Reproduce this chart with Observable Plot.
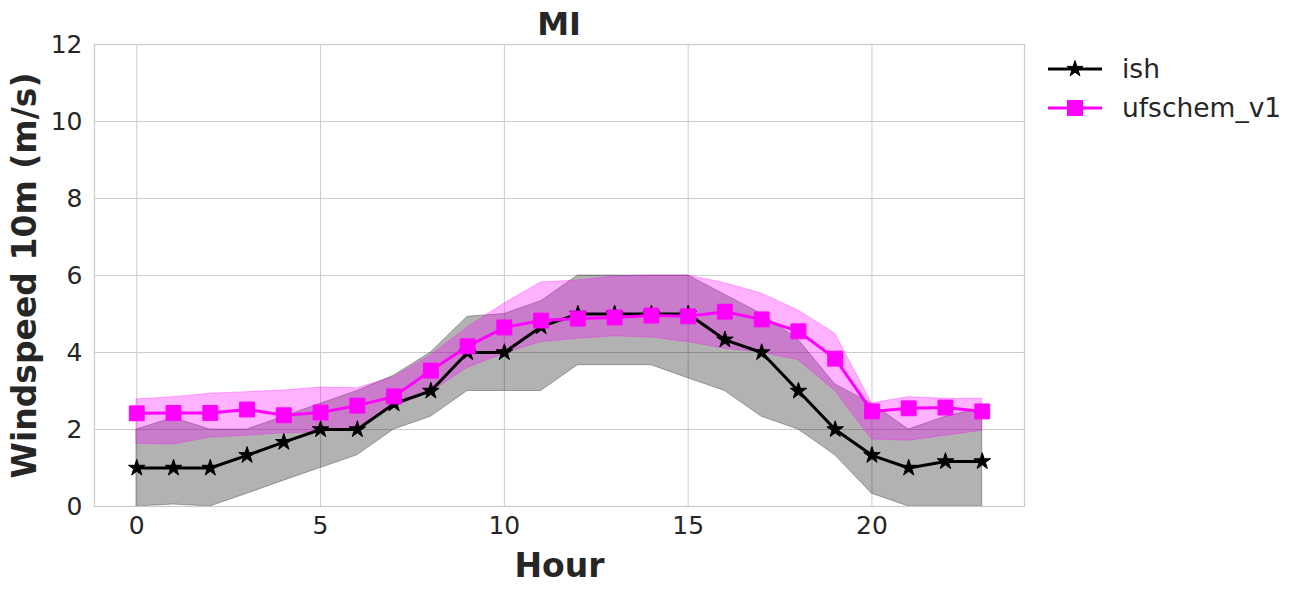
<!DOCTYPE html>
<html>
<head>
<meta charset="utf-8">
<script src="https://cdn.jsdelivr.net/npm/d3@7"></script>
<script src="https://cdn.jsdelivr.net/npm/@observablehq/plot@0.6"></script>
<style>
  html, body { margin: 0; padding: 0; background: #ffffff; }
  body { font-family: "DejaVu Sans", sans-serif; color: #262626; }
  #wrap { position: relative; width: 1303px; height: 592px; overflow: hidden; }
  #title { position: absolute; left: 94px; width: 930px; top: 4px; text-align: center;
           font-size: 32px; font-weight: bold; color: #262626; line-height: 40px; }
  #legend { position: absolute; left: 1046px; top: 49px; font-size: 26.5px; color: #262626; }
  .row { display: flex; align-items: center; height: 39px; }
  .row svg { margin-right: 18px; }
</style>
</head>
<body>
<div id="wrap">
  <div id="chart"></div>
  <div id="title">MI</div>
  <div id="legend"></div>
</div>
<script>
// ---- data ----
const hours = [0,1,2,3,4,5,6,7,8,9,10,11,12,13,14,15,16,17,18,19,20,21,22,23];

const ishMean = [1,1,1,1.33,1.67,2,2,2.67,3,4,4,4.67,5,5,5,5,4.33,4,3,2,1.33,1,1.17,1.17];
const ishLow  = [0,0.05,0,0.33,0.67,1,1.33,2,2.33,3,3,3,3.67,3.67,3.67,3.33,3,2.33,2,1.33,0.33,0,0,0];
const ishHigh = [2,2.3,2,2,2.33,2.67,3,3.4,4,4.93,5,5.33,6,6,6,6,5.5,5,4.33,3.17,2.67,2,2.33,2.55];

const ufsMean = [2.42,2.43,2.43,2.52,2.37,2.44,2.62,2.86,3.53,4.16,4.65,4.83,4.88,4.91,4.96,4.94,5.06,4.86,4.55,3.84,2.47,2.55,2.57,2.47];
const ufsLow  = [1.63,1.61,1.79,1.84,1.9,1.93,2.06,2.58,2.97,3.6,3.97,4.27,4.36,4.42,4.39,4.27,4.1,4.0,3.8,3.0,1.74,1.71,1.84,1.97];
const ufsHigh = [2.78,2.84,2.93,2.97,3.01,3.09,3.07,3.36,3.92,4.65,5.27,5.82,5.87,5.97,6.0,6.0,5.8,5.53,5.09,4.49,2.68,2.84,2.8,2.8];

const seriesNames = ["ish", "ufschem_v1"];
const seriesColors = ["#000000", "#ff00ff"];
const seriesSymbols = ["star", "square"];

const xTicks = [0, 5, 10, 15, 20];
const yTicks = [0, 2, 4, 6, 8, 10, 12];
const xLabel = "Hour";
const yLabel = "Windspeed 10m (m/s)";

// ---- build tables ----
const ish = hours.map((h, i) => ({hour: h, mean: ishMean[i], low: ishLow[i], high: ishHigh[i]}));
const ufs = hours.map((h, i) => ({hour: h, mean: ufsMean[i], low: ufsLow[i], high: ufsHigh[i]}));

const grid = "#cccccc";
const ink = "#262626";

const chart = Plot.plot({
  width: 1303,
  height: 592,
  marginTop: 44,
  marginBottom: 86,
  marginLeft: 94,
  marginRight: 279,
  style: {fontFamily: "DejaVu Sans, sans-serif", color: ink, background: "#ffffff"},
  x: {domain: [-1.15, 24.15]},
  y: {domain: [0, 12]},
  marks: [
    Plot.gridX(xTicks, {stroke: grid, strokeOpacity: 1, strokeWidth: 1}),
    Plot.gridY(yTicks, {stroke: grid, strokeOpacity: 1, strokeWidth: 1}),
    Plot.areaY(ish, {x: "hour", y1: "low", y2: "high", fill: seriesColors[0], fillOpacity: 0.3,
                     stroke: seriesColors[0], strokeOpacity: 0.3, strokeWidth: 1}),
    Plot.areaY(ufs, {x: "hour", y1: "low", y2: "high", fill: seriesColors[1], fillOpacity: 0.3,
                     stroke: seriesColors[1], strokeOpacity: 0.3, strokeWidth: 1}),
    Plot.line(ish, {x: "hour", y: "mean", stroke: seriesColors[0], strokeWidth: 3}),
    Plot.dot(ish, {x: "hour", y: "mean", symbol: seriesSymbols[0], r: 5.2, fill: seriesColors[0], stroke: seriesColors[0], strokeWidth: 1}),
    Plot.line(ufs, {x: "hour", y: "mean", stroke: seriesColors[1], strokeWidth: 3}),
    Plot.dot(ufs, {x: "hour", y: "mean", symbol: seriesSymbols[1], r: 8.4, fill: seriesColors[1], stroke: seriesColors[1], strokeWidth: 1}),
    Plot.frame({stroke: grid, strokeWidth: 1.25}),
    Plot.axisX(xTicks, {tickSize: 0, tickPadding: 10, fontSize: 25, label: null, color: ink}),
    Plot.axisY(yTicks, {tickSize: 0, tickPadding: 12, fontSize: 25, label: null, color: ink}),
    Plot.text([xLabel], {frameAnchor: "bottom", dy: 60, fontSize: 33, fontWeight: "bold", fill: ink, lineAnchor: "middle"}),
    Plot.text([yLabel], {frameAnchor: "left", dx: -69, rotate: -90, fontSize: 33, fontWeight: "bold", fill: ink, lineAnchor: "middle", textAnchor: "middle"})
  ]
});
document.getElementById("chart").appendChild(chart);

// ---- legend ----
const legend = document.getElementById("legend");
const starPath = d3.symbol(d3.symbolStar, 80)();
seriesNames.forEach((name, i) => {
  const row = document.createElement("div");
  row.className = "row";
  const marker = seriesSymbols[i] === "star"
    ? `<path d="${starPath}" transform="translate(29,11)" fill="${seriesColors[i]}" stroke="${seriesColors[i]}" stroke-width="1"/>`
    : `<rect x="21.5" y="3.5" width="15" height="15" fill="${seriesColors[i]}" stroke="${seriesColors[i]}"/>`;
  row.innerHTML = `<svg width="58" height="22"><line x1="2" x2="56" y1="11" y2="11" stroke="${seriesColors[i]}" stroke-width="3"/>${marker}</svg><span>${name}</span>`;
  legend.appendChild(row);
});
</script>
</body>
</html>
